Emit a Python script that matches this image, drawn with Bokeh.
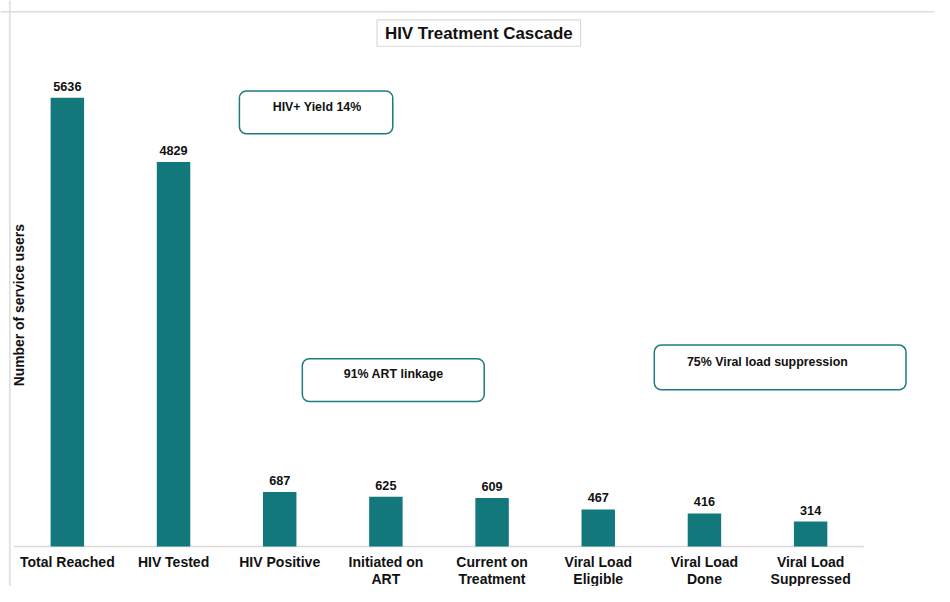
import numpy as np
from bokeh.plotting import figure
from bokeh.models import Range1d, BoxAnnotation, Label, Span, ColumnDataSource
from bokeh.core.properties import value
from bokeh.embed import file_html
from bokeh.resources import INLINE

# ---- data ----
categories = ["Total Reached", "HIV Tested", "HIV Positive", "Initiated on\nART",
              "Current on\nTreatment", "Viral Load\nEligible", "Viral Load\nDone",
              "Viral Load\nSuppressed"]
counts = [5636, 4829, 687, 625, 609, 467, 416, 314]
title_text = "HIV Treatment Cascade"
y_label = "Number of service users"
notes = ["HIV+ Yield 14%", "91% ART linkage", "75% Viral load suppression"]

# ---- layout (reference pixels, mapped proportionally onto the figure) ----
W, H = 934, 586
REF_W, REF_H = 950, 602
CAT_LEFT = 14                    # ref x where category 0 starts
CAT_W = 108                      # ref px per category
BASE_Y = 561                     # ref y of baseline
PX_PER_UNIT = 0.0818             # ref vertical px per count


def sx(px):
    return (px - CAT_LEFT) / CAT_W


def sy(py):
    return (BASE_Y - py) / PX_PER_UNIT


FONT = "Liberation Sans"
TEAL = "#12787c"
BOX_TEAL = "#1f7b7f"

p = figure(width=W, height=H, output_backend="svg", toolbar_location=None,
           title=None, x_axis_type=None, y_axis_type=None,
           x_range=Range1d(sx(0), sx(REF_W)),
           y_range=Range1d(sy(REF_H), sy(0)),
           min_border_left=0, min_border_right=0, min_border_top=0, min_border_bottom=0)
p.outline_line_color = None
p.xgrid.visible = False
p.ygrid.visible = False
p.background_fill_color = "white"
p.border_fill_color = "white"

xpos = np.arange(len(categories)) + 0.5
src = ColumnDataSource(dict(x=xpos, top=counts, cat=categories,
                            lbl=[str(c) for c in counts]))

# outer chart border (left / top)
p.add_layout(Span(location=sx(9.5), dimension="height", line_color="#dcdcdc", line_width=1.5))
p.add_layout(Span(location=sy(11.5), dimension="width", line_color="#dcdcdc", line_width=1.5))

# baseline
p.segment(x0=[0], x1=[len(categories)], y0=[0], y1=[0], line_color="#d9d9d9", line_width=1.5)

# bars
p.vbar(x="x", top="top", width=0.315, source=src, fill_color=TEAL, line_color=None)

# value labels
p.text(x="x", y="top", text="lbl", source=src, text_align="center", text_baseline="bottom",
       y_offset=-7, text_font=value(FONT), text_font_style="bold", text_font_size="12.7px",
       text_color="#111111")

# category labels
p.text(x="x", y=0, text="cat", source=src, text_align="center", text_baseline="top",
       y_offset=7, text_font=value(FONT), text_font_style="bold", text_font_size="14px",
       text_line_height=1.08, text_color="#111111")

# y axis label
p.add_layout(Label(x=sx(18.5), y=sy(313), text=y_label, angle=np.pi / 2,
                   text_align="center", text_baseline="middle", text_font=FONT,
                   text_font_style="bold", text_font_size="13.9px", text_color="#111111"))

# title box
p.add_layout(BoxAnnotation(left=sx(383), right=sx(590), top=sy(20), bottom=sy(47),
                           fill_color="white", fill_alpha=1, line_color="#d9d9d9",
                           line_alpha=1, line_width=1.2))
p.add_layout(Label(x=sx(486.5), y=sy(34), text=title_text, text_align="center",
                   text_baseline="middle", text_font=FONT, text_font_style="bold",
                   text_font_size="16.9px", text_color="#111111"))

# annotation boxes
boxes = [
    (243, 399, 93, 137, 322, 109),
    (307, 492, 368, 412, 400, 384),
    (665, 921, 354, 400, 780, 371),
]
for (l, r, t, b, tx, ty), note in zip(boxes, notes):
    p.add_layout(BoxAnnotation(left=sx(l), right=sx(r), top=sy(t), bottom=sy(b),
                               fill_color="white", fill_alpha=1, line_color=BOX_TEAL,
                               line_alpha=1, line_width=1.5, border_radius=7))
    p.add_layout(Label(x=sx(tx), y=sy(ty), text=note, text_align="center",
                       text_baseline="middle", text_font=FONT, text_font_style="bold",
                       text_font_size="12.4px", text_color="#111111"))

open("out.html", "w").write(file_html(p, INLINE))
